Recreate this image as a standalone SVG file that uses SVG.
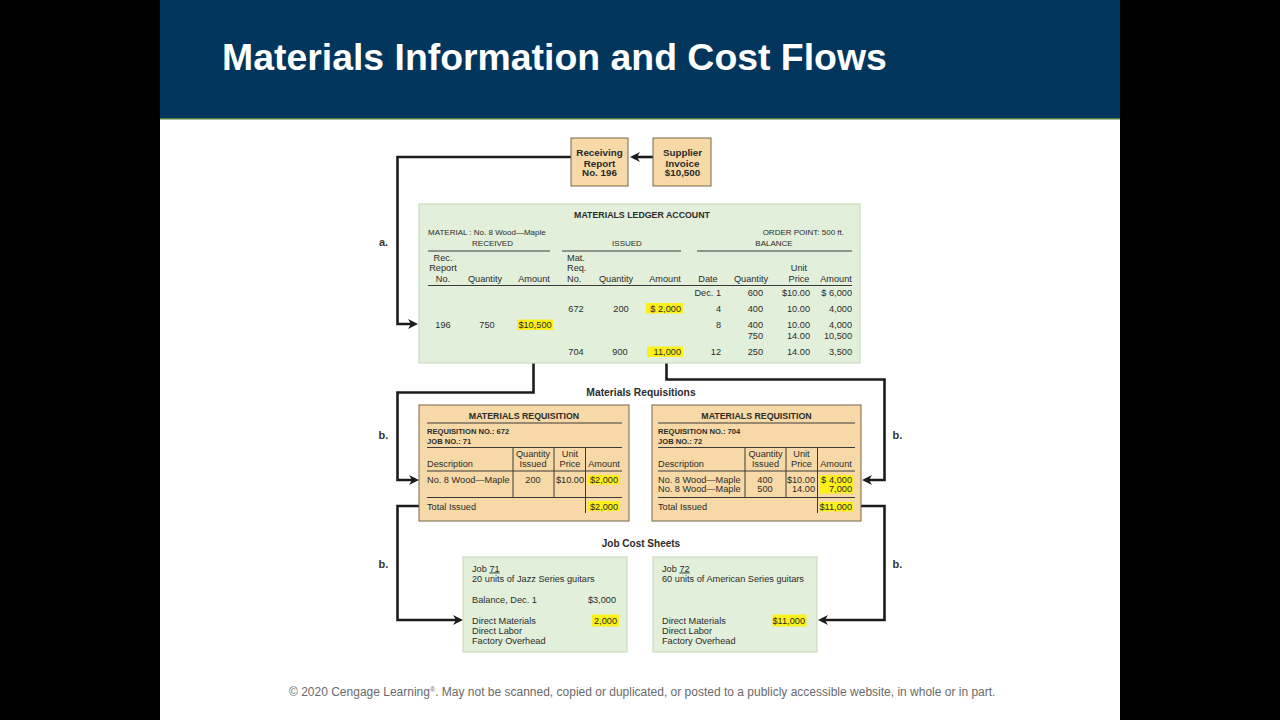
<svg xmlns="http://www.w3.org/2000/svg" width="1280" height="720" viewBox="0 0 1280 720">
<defs>
<style>
text{font-family:"Liberation Sans",Arial,sans-serif;fill:#2b2b2b}
.t{font-size:9.8px}
.s{font-size:9.2px}
.h{font-size:8px}
.b{font-weight:bold}
.m{text-anchor:middle}
.e{text-anchor:end}
.lab{font-size:11px;font-weight:bold;fill:#333}
.tan{fill:#f6d9a6;stroke:#75644a;stroke-width:1}
.grn{fill:#e2efda;stroke:#cadcc0;stroke-width:1.2}
.rule{stroke:#3a3a3a;stroke-width:1;fill:none}
.hl{fill:#fbf01c}
.con{fill:none;stroke:#1c1c1c;stroke-width:2.6;marker-end:url(#ah)}
</style>
<marker id="ah" markerUnits="userSpaceOnUse" markerWidth="12" markerHeight="10" refX="4" refY="5" orient="auto">
<path d="M0,0 L10,5 L0,10 L3,5 Z" fill="#1c1c1c"/>
</marker>
</defs>
<rect x="0" y="0" width="1280" height="720" fill="#000"/>
<rect x="160" y="0" width="960" height="720" fill="#fff"/>
<g id="header">
<rect x="160" y="0" width="960" height="118" fill="#02365c"/>
<rect x="160" y="118" width="960" height="1.5" fill="#4d7a3e"/>
<text x="222" y="70" style="font-size:37.4px;font-weight:bold;fill:#fff">Materials Information and Cost Flows</text>
</g>

<g id="connectors">
<path class="con" d="M653,157 H636"/>
<path class="con" d="M571,157 H397.5 V324 H412"/>
<path class="con" d="M666.5,313.5 V337.5 H533.5 V392.5 H397.5 V480 H413"/>
<path class="con" d="M666.5,357 V379.5 H884.5 V480 H868"/>
<path class="con" d="M419,506 H397.5 V620 H457"/>
<path class="con" d="M854,506 H884.5 V620 H824"/>
<text class="lab m" x="383.5" y="245.5">a.</text>
<text class="lab m" x="383.5" y="439">b.</text>
<text class="lab m" x="897.5" y="439">b.</text>
<text class="lab m" x="383.5" y="568">b.</text>
<text class="lab m" x="897.5" y="568">b.</text>
</g>

<g id="receiving-report">
<rect class="tan" x="571" y="138" width="57" height="48"/>
<text class="t b m" x="599.5" y="156">Receiving</text>
<text class="t b m" x="599.5" y="166.5">Report</text>
<text class="t b m" x="599.5" y="176">No. 196</text>
</g>
<g id="supplier-invoice">
<rect class="tan" x="653" y="138" width="58" height="48"/>
<text class="t b m" x="682.5" y="156">Supplier</text>
<text class="t b m" x="682.5" y="166.5">Invoice</text>
<text class="t b m" x="682.5" y="176">$10,500</text>
</g>

<g id="ledger">
<rect class="grn" x="419" y="204" width="441" height="159"/>
<text class="b m" x="642" y="217.5" style="font-size:8.8px">MATERIALS LEDGER ACCOUNT</text>
<text class="h" x="428" y="234.5">MATERIAL : No. 8 Wood—Maple</text>
<text class="h e" x="844" y="234.5">ORDER POINT: 500 ft.</text>
<text class="h m" x="492.5" y="246">RECEIVED</text>
<text class="h m" x="627" y="246">ISSUED</text>
<text class="h m" x="774" y="246">BALANCE</text>
<path class="rule" d="M428,251 H550 M562,251 H681 M697,251 H852"/>
<text class="s m" x="443" y="260.5">Rec.</text>
<text class="s m" x="443" y="271">Report</text>
<text class="s m" x="443" y="282">No.</text>
<text class="s m" x="485" y="282">Quantity</text>
<text class="s m" x="534" y="282">Amount</text>
<text class="s" x="567" y="260.5">Mat.</text>
<text class="s" x="567" y="271">Req.</text>
<text class="s" x="567" y="282">No.</text>
<text class="s m" x="616" y="282">Quantity</text>
<text class="s m" x="665" y="282">Amount</text>
<text class="s m" x="708" y="282">Date</text>
<text class="s m" x="751" y="282">Quantity</text>
<text class="s m" x="799" y="271">Unit</text>
<text class="s m" x="799" y="282">Price</text>
<text class="s m" x="836" y="282">Amount</text>
<path class="rule" d="M428,285.5 H852"/>
<rect class="hl" x="646" y="303" width="37" height="10.5"/>
<rect class="hl" x="517" y="319.5" width="36" height="10.5"/>
<rect class="hl" x="647" y="346.5" width="36" height="10.5"/>
<text class="s e" x="721" y="295.5">Dec. 1</text>
<text class="s e" x="763" y="295.5">600</text>
<text class="s e" x="810" y="295.5">$10.00</text>
<text class="s e" x="852" y="295.5">$ 6,000</text>
<text class="s m" x="576" y="311.5">672</text>
<text class="s m" x="621" y="311.5">200</text>
<text class="s e" x="681" y="311.5">$ 2,000</text>
<text class="s e" x="721" y="311.5">4</text>
<text class="s e" x="763" y="311.5">400</text>
<text class="s e" x="810" y="311.5">10.00</text>
<text class="s e" x="852" y="311.5">4,000</text>
<text class="s m" x="443" y="327.5">196</text>
<text class="s m" x="487" y="327.5">750</text>
<text class="s m" x="535" y="327.5">$10,500</text>
<text class="s e" x="721" y="327.5">8</text>
<text class="s e" x="763" y="327.5">400</text>
<text class="s e" x="810" y="327.5">10.00</text>
<text class="s e" x="852" y="327.5">4,000</text>
<text class="s e" x="763" y="338.5">750</text>
<text class="s e" x="810" y="338.5">14.00</text>
<text class="s e" x="852" y="338.5">10,500</text>
<text class="s m" x="576" y="354.5">704</text>
<text class="s m" x="620" y="354.5">900</text>
<text class="s e" x="681" y="354.5">11,000</text>
<text class="s e" x="721" y="354.5">12</text>
<text class="s e" x="763" y="354.5">250</text>
<text class="s e" x="810" y="354.5">14.00</text>
<text class="s e" x="852" y="354.5">3,500</text>
</g>

<text class="b m" x="641" y="395.5" style="font-size:10.3px">Materials Requisitions</text>

<g id="requisition-672">
<rect class="tan" x="419" y="405" width="210" height="116"/>
<text class="b m" x="524" y="419" style="font-size:8.8px">MATERIALS REQUISITION</text>
<path class="rule" d="M427,423 H622"/>
<text class="b" x="427" y="433.5" style="font-size:7.6px">REQUISITION NO.: 672</text>
<text class="b" x="427" y="443.5" style="font-size:7.6px">JOB NO.: 71</text>
<path class="rule" d="M427,447.5 H622 M427,471 H622 M427,497.5 H622 M513,447.5 V497.5 M554,447.5 V497.5 M585.5,447.5 V513"/>
<text class="s" x="427" y="466.5">Description</text>
<text class="s m" x="533" y="457">Quantity</text>
<text class="s m" x="533" y="466.5">Issued</text>
<text class="s m" x="570" y="457">Unit</text>
<text class="s m" x="570" y="466.5">Price</text>
<text class="s m" x="604" y="466.5">Amount</text>
<rect class="hl" x="587" y="475" width="33" height="9.5"/>
<rect class="hl" x="587" y="501" width="33" height="10"/>
<text class="s" x="427" y="482.5">No. 8 Wood—Maple</text>
<text class="s m" x="533" y="482.5">200</text>
<text class="s m" x="570" y="482.5">$10.00</text>
<text class="s m" x="604" y="482.5">$2,000</text>
<text class="s" x="427" y="509.5">Total Issued</text>
<text class="s m" x="604" y="509.5">$2,000</text>
</g>

<g id="requisition-704">
<rect class="tan" x="652" y="405" width="209" height="116"/>
<text class="b m" x="756.5" y="419" style="font-size:8.8px">MATERIALS REQUISITION</text>
<path class="rule" d="M658,423 H855"/>
<text class="b" x="658" y="433.5" style="font-size:7.6px">REQUISITION NO.: 704</text>
<text class="b" x="658" y="443.5" style="font-size:7.6px">JOB NO.: 72</text>
<path class="rule" d="M658,447.5 H855 M658,471 H855 M658,497.5 H855 M745,447.5 V497.5 M786,447.5 V497.5 M817.5,447.5 V513"/>
<text class="s" x="658" y="466.5">Description</text>
<text class="s m" x="765.5" y="457">Quantity</text>
<text class="s m" x="765.5" y="466.5">Issued</text>
<text class="s m" x="801.5" y="457">Unit</text>
<text class="s m" x="801.5" y="466.5">Price</text>
<text class="s m" x="836" y="466.5">Amount</text>
<rect class="hl" x="819" y="475" width="34" height="18.5"/>
<rect class="hl" x="819" y="502" width="34" height="9.5"/>
<text class="s" x="658" y="482.5">No. 8 Wood—Maple</text>
<text class="s" x="658" y="492">No. 8 Wood—Maple</text>
<text class="s m" x="765" y="482.5">400</text>
<text class="s m" x="765" y="492">500</text>
<text class="s e" x="815" y="482.5">$10.00</text>
<text class="s e" x="815" y="492">14.00</text>
<text class="s" x="821" y="482.5">$</text>
<text class="s e" x="852" y="482.5">4,000</text>
<text class="s e" x="852" y="492">7,000</text>
<text class="s" x="658" y="509.5">Total Issued</text>
<text class="s e" x="852" y="509.5">$11,000</text>
</g>

<text class="b m" x="641" y="547" style="font-size:10px">Job Cost Sheets</text>

<g id="job-71">
<rect class="grn" x="463" y="557" width="164" height="95"/>
<text class="s" x="472" y="571.5">Job <tspan text-decoration="underline">71</tspan></text>
<text class="s" x="472" y="582">20 units of Jazz Series guitars</text>
<text class="s" x="472" y="603">Balance, Dec. 1</text>
<text class="s e" x="616" y="603">$3,000</text>
<rect class="hl" x="592" y="614.5" width="27" height="12"/>
<text class="s" x="472" y="623.5">Direct Materials</text>
<text class="s e" x="617" y="623.5">2,000</text>
<text class="s" x="472" y="633.5">Direct Labor</text>
<text class="s" x="472" y="643.5">Factory Overhead</text>
</g>

<g id="job-72">
<rect class="grn" x="653" y="557" width="164" height="95"/>
<text class="s" x="662" y="571.5">Job <tspan text-decoration="underline">72</tspan></text>
<text class="s" x="662" y="582">60 units of American Series guitars</text>
<rect class="hl" x="772.5" y="614.5" width="34" height="12"/>
<text class="s" x="662" y="623.5">Direct Materials</text>
<text class="s e" x="805" y="623.5">$11,000</text>
<text class="s" x="662" y="633.5">Direct Labor</text>
<text class="s" x="662" y="643.5">Factory Overhead</text>
</g>

<text x="289" y="696" style="font-size:12px;fill:#6a6a6a">© 2020 Cengage Learning<tspan style="font-size:7px" dy="-4">®</tspan><tspan dy="4">. May not be scanned, copied or duplicated, or posted to a publicly accessible website, in whole or in part.</tspan></text>
</svg>
